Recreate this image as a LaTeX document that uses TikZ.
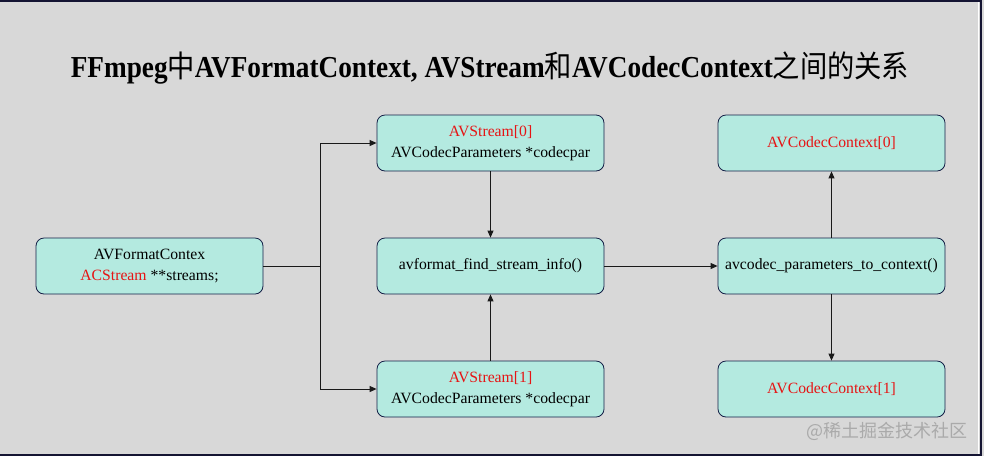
\documentclass[tikz,border=0pt]{standalone}
\usepackage{fontspec}
\setmainfont{Liberation Serif}
\newfontfamily\cjk{Noto Sans CJK SC}
\usetikzlibrary{arrows.meta}
\definecolor{bg}{RGB}{216,216,216}
\definecolor{boxfill}{RGB}{180,234,224}
\definecolor{boxline}{RGB}{20,30,70}
\definecolor{frameline}{RGB}{20,20,50}
\definecolor{redtxt}{RGB}{230,20,20}
\definecolor{wm}{RGB}{170,170,170}
\tikzset{
  box/.style={draw=boxline, line width=0.8pt, fill=boxfill, rounded corners=8pt,
    minimum width=227pt, minimum height=56pt, align=center, inner sep=0pt,
    font=\fontsize{15.7pt}{21pt}\selectfont},
  conn/.style={line width=0.9pt, draw=black!90},
  arr/.style={conn, -{Triangle[length=7pt,width=6pt]}}
}
\newcommand{\rd}[1]{\textcolor{redtxt}{#1}}
\newcommand{\cj}[1]{{\cjk\mdseries #1}}
\begin{document}
\begin{tikzpicture}[x=1pt,y=-1pt]
\fill[bg] (0,0) rectangle (984,456);
\useasboundingbox (0,0) rectangle (984,456);
\draw[frameline, line width=2pt] (0,1) -- (982,1);
\draw[frameline, line width=2pt] (0,455) -- (982,455);
\draw[white, line width=1.5pt] (978.5,2) -- (978.5,454);
\draw[frameline, line width=2pt] (981,0) -- (981,456);

\node[font=\fontsize{29pt}{30pt}\selectfont\bfseries, xscale=0.94, yscale=1.05] (title) at (490,68)
  {FFmpeg\cj{中}AVFormatContext, AVStream\cj{和}AVCodecContext\cj{之间的关系}};

\node[box] (fmt) at (149.5,266) {AVFormatContex\\\rd{ACStream} **streams;};
\node[box] (s0) at (490.5,143) {\rd{AVStream[0]}\\AVCodecParameters *codecpar};
\node[box] (find) at (490.5,266) {avformat\_find\_stream\_info()};
\node[box] (s1) at (490.5,389) {\rd{AVStream[1]}\\AVCodecParameters *codecpar};
\node[box] (c0) at (831.5,143) {\rd{AVCodecContext[0]}};
\node[box] (p2c) at (831.5,266) {avcodec\_parameters\_to\_context()};
\node[box] (c1) at (831.5,389) {\rd{AVCodecContext[1]}};

\coordinate (split) at (320,266);
\draw[conn] (fmt.east) -- (split);
\draw[arr] (split) |- (s0.west);
\draw[arr] (split) |- (s1.west);
\draw[arr] (s0.south) -- (find.north);
\draw[arr] (s1.north) -- (find.south);
\draw[arr] (find.east) -- (p2c.west);
\draw[arr] (p2c.north) -- (c0.south);
\draw[arr] (p2c.south) -- (c1.north);

\node[text=wm, font=\cjk\fontsize{18pt}{20pt}\selectfont, anchor=east, inner sep=0pt] (wmk) at (968,431) {@稀土掘金技术社区};
\end{tikzpicture}
\end{document}
